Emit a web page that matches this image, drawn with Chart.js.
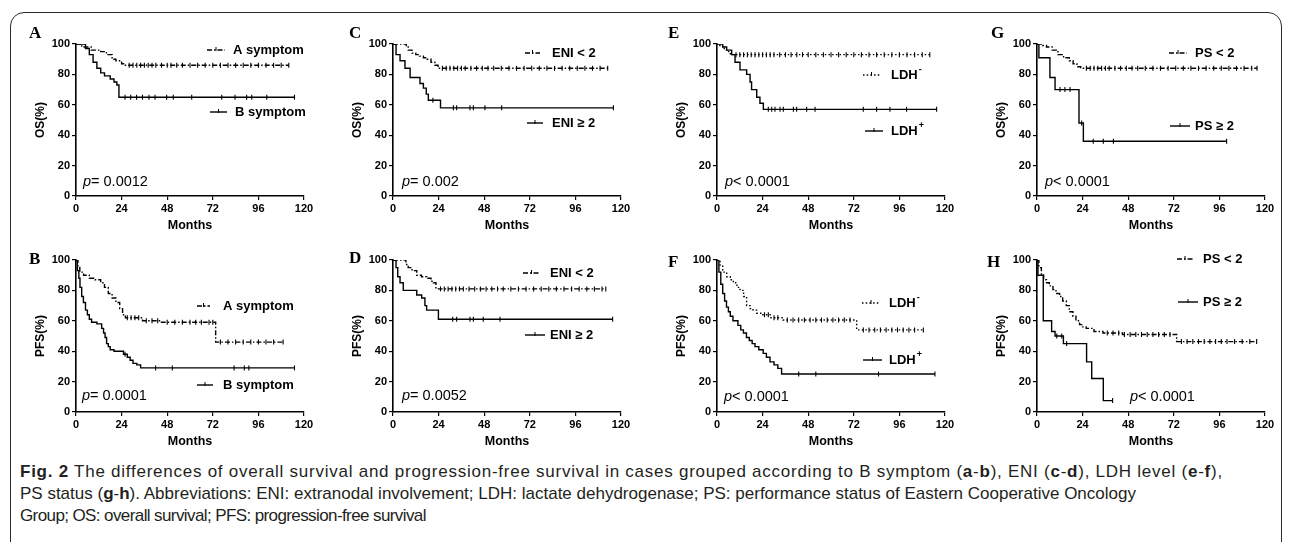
<!DOCTYPE html>
<html>
<head>
<meta charset="utf-8">
<script src="https://cdn.jsdelivr.net/npm/chart.js"></script>
<style>
  body { margin: 0; background: #fff; width: 1292px; height: 542px; overflow: hidden; position: relative;
         font-family: "Liberation Sans", Arial, sans-serif; }
  #frame { position: absolute; left: 10px; top: 12px; width: 1272px; height: 560px; border: 1.5px solid #2a2a2a;
           border-radius: 14px; box-sizing: border-box; }
  canvas { position: absolute; }
  #cap { position: absolute; left: 20px; top: 461px; font-size: 17px; line-height: 22px; color: #231f20; white-space: nowrap; }
  #cap .l1 { letter-spacing: 0.75px; }
  #cap .l3 { letter-spacing: -0.6px; }
</style>
</head>
<body>
<div id="frame"></div>
<div id="charts"></div>
<div id="cap"><span class="l1"><b>Fig. 2</b> The differences of overall survival and progression-free survival in cases grouped according to B symptom (<b>a</b>-<b>b</b>), ENI (<b>c</b>-<b>d</b>), LDH level (<b>e</b>-<b>f</b>),</span><br><span class="l2">PS status (<b>g</b>-<b>h</b>). Abbreviations: ENI: extranodal involvement; LDH: lactate dehydrogenase; PS: performance status of Eastern Cooperative Oncology</span><br><span class="l3">Group; OS: overall survival; PFS: progression-free survival</span></div>

<script>
// tick labels
const monthTicks = [0, 24, 48, 72, 96, 120]
const percentTicks = [0, 20, 40, 60, 80, 100]

// Kaplan-Meier steps: [month, %], censored months
// A - OS by B symptom
const osAsym = [[0,100],[3,98],[8,96],[13,95],[16,93],[19,90],[21,89],[24,87],[26,86],[112,86]]
const osAsymCens = [28,30,32,34,36,38,40,42,45,48,50,53,56,60,64,68,72,76,80,84,88,92,96,100,104,108,112]
const osBsym = [[0,100],[5,97],[7,93],[9,88],[11,84],[13,81],[15,79],[18,77],[20,75],[21.5,73],[22.6,65],[115,65]]
const osBsymCens = [25.8,28.8,31.9,35,38.4,41.6,47.7,51.2,60.9,76.7,83.7,89.8,92.5,100.4,115]

// B - PFS by B symptom
const pfsAsym = [[0,100],[1,96],[2,92],[4,90],[7,88],[10,87],[13,85],[15,82],[17,78],[19,75],[21,72],[23,68],[24.5,64],[26,62],[35,60],[45,59],[73.5,46],[109,46]]
const pfsAsymCens = [27,29,31,33,37,40,43,48,52,56,60,63,66,70,72,76,80,84,88,92,96,100,104,109]
const pfsBsym = [[0,100],[0.7,93],[1.5,88],[2.1,82],[3,76],[3.9,72],[5,67],[6,64],[7,61],[8.2,59],[11,58],[13.5,55],[14.5,52],[15.3,49],[16.1,45],[17,43],[18,41],[20,40],[25,38],[27,36],[28.5,34],[30,32],[32,31],[34,29],[115,29]]
const pfsBsymCens = [25.8,41.9,50.7,83.2,88.6,91,115]

// C - OS by ENI
const osEniLo = [[0,100],[7,98],[8,96],[10,94],[12,93],[14,92],[16,91],[18,90],[20,88],[22,86],[23.7,84],[113,84]]
const osEniLoCens = [26,28,30,32,34,36,38,41,44,47,50,53,57,61,65,69,73,77,81,85,89,93,97,101,105,109,113]
const osEniHi = [[0,100],[1.6,93],[3.7,89],[6.3,84],[9,78],[14.2,74],[16,71],[17.5,67],[18.6,63],[25,58],[116,58]]
const osEniHiCens = [21,31.8,33.5,40.5,42.3,48.4,57.2,116]

// D - PFS by ENI
const pfsEniLo = [[0,100],[6.8,97],[8,95],[10,93],[12.5,90],[15,89],[17.7,88],[20,86],[21.2,85],[22.6,81],[112,81]]
const pfsEniLoCens = [25,27,29,31,33,35,37,40,43,46,49,52,55,58,62,66,70,74,78,82,86,90,94,98,102,106,110,112]
const pfsEniHi = [[0,100],[1.6,95],[2.5,89],[3.7,85],[5.4,80],[12.5,77],[15.1,75],[16.8,70],[17.7,67],[23.9,61],[115.6,61]]
const pfsEniHiCens = [31.4,33.5,40.5,42.3,47.5,56.3,115.6]

// E - OS by LDH
const osLdhNeg = [[0,100],[1.5,99],[3,97],[5,95],[7,93],[112,93]]
const osLdhNegCens = [10,12,14,16,18,20,22,24,26,28,30,33,36,39,42,45,48,52,56,60,64,68,72,76,80,84,88,92,96,100,104,108,112]
const osLdhPos = [[0,100],[3,98],[5.1,96],[7.7,93],[9.5,88],[12.1,83],[15.6,80],[17.4,75],[18.2,70],[20.9,65],[22.6,61],[24.4,57],[115.6,57]]
const osLdhPosCens = [27,28.8,30.5,33.2,34.9,40.2,41.9,47.2,51.6,77,84,91,99.8,115.6]

// F - PFS by LDH
const pfsLdhNeg = [[0,100],[1.6,96],[3,92],[5.1,89],[7,87],[8.6,85],[10.5,82],[12.1,80],[14,76],[15.6,70],[17.4,68],[19,67],[20.9,65],[23.5,64],[28,62],[34.8,60.5],[73.5,54],[108.6,54]]
const pfsLdhNegCens = [25,27,30,32,37,40,43,46,49,52,55,58,61,64,67,70,77,80,83,86,89,92,95,98,101,104,108.6]
const pfsLdhPos = [[0,100],[1,92],[2,84],[3,78],[4,73],[5,69],[6,66],[7,63],[8.4,60],[11,57],[12.5,54],[13.9,52],[15.5,49],[17,47],[18.5,45],[20,43],[22,41],[24.3,38.6],[26,36],[27.9,33],[30,31],[32,28.7],[34,25],[114.7,25]]
const pfsLdhPosCens = [43,52,85,114.7]

// G - OS by PS
const osPsLo = [[0,100],[3,99],[5,98],[8,96],[11,93],[14,91],[17,89],[19,87],[21,85],[23,84],[115.8,84]]
const osPsLoCens = [26,28,30,32,34,36,38,41,44,47,50,53,57,61,65,69,73,77,81,85,89,93,97,101,105,109,113,115.8]
const osPsHi = [[0,100],[1,91],[6.8,78],[9.5,70],[22.1,48],[24.4,36],[99.8,36]]
const osPsHiCens = [12.1,14.7,17.4,23.5,29.6,34.9,40.2,99.8]

// H - PFS by PS
const pfsPsLo = [[0,100],[1,95],[2.3,90],[3.5,87],[5,85],[6.5,83],[8.4,80.5],[10,78],[11.9,76],[13.5,73],[15.4,70],[17,66],[18.9,63],[20.5,60],[22.4,57.5],[24,56],[25.9,55],[30,53],[34.7,52],[45,51],[73.5,46.3],[115.6,46.3]]
const pfsPsLoCens = [37,40,43,46,49,52,55,58,61,64,67,70,76,79,82,85,88,91,94,97,100,104,108,112,115.6]
const pfsPsHi = [[0,100],[0.5,90],[3.3,60],[7.7,53],[9.5,50],[13.9,45],[26.1,33],[28.8,22],[34.9,7.5],[39.8,7.5]]
const pfsPsHiCens = [10.4,13,15.6,39.8]

const DASH = [5, 2, 1.5, 2]
const DOT = [1.5, 2.2]
const SOLID = []

// plot area of each panel on the page; legend [x1, x2, textX, y] relative to the plot area
const panels = [
  { letter: 'A', lp: [-47, -6], left: 76, top: 44, yTitle: 'OS(%)', p: '= 0.0012', pp: [7, 138],
    groups: [
      { name: 'A symptom', steps: osAsym, cens: osAsymCens, dash: DASH, leg: [131, 149, 157, 6] },
      { name: 'B symptom', steps: osBsym, cens: osBsymCens, dash: SOLID, leg: [134, 151, 159, 68] }] },
  { letter: 'B', lp: [-47, 4], left: 76, top: 260, yTitle: 'PFS(%)', p: '= 0.0001', pp: [6, 136],
    groups: [
      { name: 'A symptom', steps: pfsAsym, cens: pfsAsymCens, dash: DASH, leg: [121, 134, 147, 46] },
      { name: 'B symptom', steps: pfsBsym, cens: pfsBsymCens, dash: SOLID, leg: [121, 137, 147, 125] }] },
  { letter: 'C', lp: [-44, -6], left: 393, top: 44, yTitle: 'OS(%)', p: '= 0.002', pp: [9, 138],
    groups: [
      { name: 'ENI < 2', steps: osEniLo, cens: osEniLoCens, dash: DASH, leg: [132, 147, 159, 9] },
      { name: 'ENI \u2265 2', steps: osEniHi, cens: osEniHiCens, dash: SOLID, leg: [134, 150, 159, 79] }] },
  { letter: 'D', lp: [-44, 3], left: 393, top: 260, yTitle: 'PFS(%)', p: '= 0.0052', pp: [9, 136],
    groups: [
      { name: 'ENI < 2', steps: pfsEniLo, cens: pfsEniLoCens, dash: DASH, leg: [130, 147, 157, 13] },
      { name: 'ENI \u2265 2', steps: pfsEniHi, cens: pfsEniHiCens, dash: SOLID, leg: [132, 152, 157, 75] }] },
  { letter: 'E', lp: [-49, -6], left: 717, top: 44, yTitle: 'OS(%)', p: '< 0.0001', pp: [8, 138],
    groups: [
      { name: 'LDH', sup: '-', steps: osLdhNeg, cens: osLdhNegCens, dash: DOT, leg: [146, 163, 174, 31] },
      { name: 'LDH', sup: '+', steps: osLdhPos, cens: osLdhPosCens, dash: SOLID, leg: [148, 166, 174, 87] }] },
  { letter: 'F', lp: [-49, 7], left: 717, top: 260, yTitle: 'PFS(%)', p: '< 0.0001', pp: [7, 137],
    groups: [
      { name: 'LDH', sup: '-', steps: pfsLdhNeg, cens: pfsLdhNegCens, dash: DOT, leg: [145, 163, 172, 43] },
      { name: 'LDH', sup: '+', steps: pfsLdhPos, cens: pfsLdhPosCens, dash: SOLID, leg: [146, 165, 172, 100] }] },
  { letter: 'G', lp: [-46, -6], left: 1037, top: 44, yTitle: 'OS(%)', p: '< 0.0001', pp: [8, 138],
    groups: [
      { name: 'PS < 2', steps: osPsLo, cens: osPsLoCens, dash: DASH, leg: [132, 150, 158, 9] },
      { name: 'PS \u2265 2', steps: osPsHi, cens: osPsHiCens, dash: SOLID, leg: [133, 153, 158, 82] }] },
  { letter: 'H', lp: [-50, 7], left: 1037, top: 260, yTitle: 'PFS(%)', p: '< 0.0001', pp: [93, 137],
    groups: [
      { name: 'PS < 2', steps: pfsPsLo, cens: pfsPsLoCens, dash: DASH, leg: [140, 156, 166, -1] },
      { name: 'PS \u2265 2', steps: pfsPsHi, cens: pfsPsHiCens, dash: SOLID, leg: [141, 161, 166, 42] }] },
]

const PLOT_W = 228, PLOT_H = 152
const Y_W = 43, X_H = 37
const PAD = { left: 8, top: 20, right: 16, bottom: 3 }
const SANS = '"Liberation Sans", Arial, sans-serif'

Chart.defaults.font.family = SANS
Chart.defaults.color = '#000'

function survAt(steps, t) {
  let s = steps[0][1]
  for (const [m, v] of steps) { if (m <= t) s = v }
  return s
}

const kmText = {
  id: 'kmText',
  afterDraw(chart, args, o) {
    const { ctx, chartArea: ca } = chart
    ctx.save()
    ctx.fillStyle = '#000'
    ctx.strokeStyle = '#000'
    // panel letter
    ctx.font = 'bold 17px "Liberation Serif", "DejaVu Serif", serif'
    ctx.textBaseline = 'alphabetic'
    ctx.fillText(o.letter, ca.left + o.lp[0], ca.top + o.lp[1])
    // legend entries
    for (const g of o.groups) {
      const [x1, x2, tx, ly] = g.leg
      const y = ca.top + ly
      ctx.lineWidth = 1.4
      ctx.setLineDash(g.dash)
      ctx.beginPath(); ctx.moveTo(ca.left + x1, y); ctx.lineTo(ca.left + x2, y); ctx.stroke()
      ctx.setLineDash([])
      ctx.lineWidth = 1
      const mx = ca.left + (x1 + x2) / 2
      ctx.beginPath(); ctx.moveTo(mx, y - 3); ctx.lineTo(mx, y + 1); ctx.stroke()
      ctx.font = 'bold 13px ' + SANS
      ctx.textBaseline = 'middle'
      ctx.fillText(g.name, ca.left + tx, y)
      if (g.sup) {
        const w = ctx.measureText(g.name).width
        ctx.font = 'bold 9px ' + SANS
        ctx.fillText(g.sup, ca.left + tx + w + 1, y - 5)
      }
    }
    // p value
    ctx.textBaseline = 'middle'
    ctx.font = 'italic 14.5px ' + SANS
    const px = ca.left + o.pp[0], py = ca.top + o.pp[1]
    ctx.fillText('p', px, py)
    const pw = ctx.measureText('p').width
    ctx.font = '14.5px ' + SANS
    ctx.fillText(o.p, px + pw, py)
    ctx.restore()
  }
}

function addPanel(panel) {
  const canvas = document.createElement('canvas')
  const w = PAD.left + Y_W + PLOT_W + PAD.right
  const h = PAD.top + PLOT_H + X_H + PAD.bottom
  canvas.width = w
  canvas.height = h
  canvas.style.left = (panel.left - Y_W - PAD.left) + 'px'
  canvas.style.top = (panel.top - PAD.top) + 'px'
  canvas.style.width = w + 'px'
  canvas.style.height = h + 'px'
  document.getElementById('charts').appendChild(canvas)

  const datasets = []
  for (const g of panel.groups) {
    datasets.push({
      type: 'line',
      data: g.steps.map(([x, y]) => ({ x, y })),
      stepped: 'before',
      borderColor: '#000',
      borderWidth: 1.4,
      borderDash: g.dash,
      pointRadius: 0,
      fill: false,
    })
    datasets.push({
      type: 'scatter',
      data: g.cens.map(t => ({ x: t, y: survAt(g.steps, t) })),
      pointStyle: 'line',
      rotation: 90,
      pointRadius: 2.5,
      borderColor: '#000',
      borderWidth: 1.1,
    })
  }

  const tickFont = { size: 11, weight: 'bold' }
  new Chart(canvas.getContext('2d'), {
    type: 'line',
    data: { datasets },
    plugins: [kmText],
    options: {
      responsive: false,
      animation: false,
      layout: { padding: PAD },
      plugins: {
        legend: { display: false },
        tooltip: { enabled: false },
        kmText: panel,
      },
      scales: {
        x: {
          type: 'linear', min: 0, max: 120,
          afterBuildTicks: s => { s.ticks = monthTicks.map(v => ({ value: v })) },
          afterFit: s => { s.height = X_H },
          ticks: { font: tickFont, padding: 2, maxRotation: 0, color: '#000' },
          grid: { drawOnChartArea: false, drawTicks: true, tickLength: 4, color: '#000', lineWidth: 1.2 },
          border: { color: '#000', width: 1.6 },
          title: { display: true, text: 'Months', font: { size: 12.5, weight: 'bold' }, color: '#000', padding: { top: 0, bottom: 0 } },
        },
        y: {
          type: 'linear', min: 0, max: 100,
          afterBuildTicks: s => { s.ticks = percentTicks.map(v => ({ value: v })) },
          afterFit: s => { s.width = Y_W },
          ticks: { font: tickFont, padding: 2, color: '#000' },
          grid: { drawOnChartArea: false, drawTicks: true, tickLength: 4, color: '#000', lineWidth: 1.2 },
          border: { color: '#000', width: 1.6 },
          title: { display: true, text: panel.yTitle, font: { size: 12, weight: 'bold' }, color: '#000', padding: { top: 0, bottom: 0 } },
        },
      },
    },
  })
}

panels.forEach(addPanel)
</script>
</body>
</html>
